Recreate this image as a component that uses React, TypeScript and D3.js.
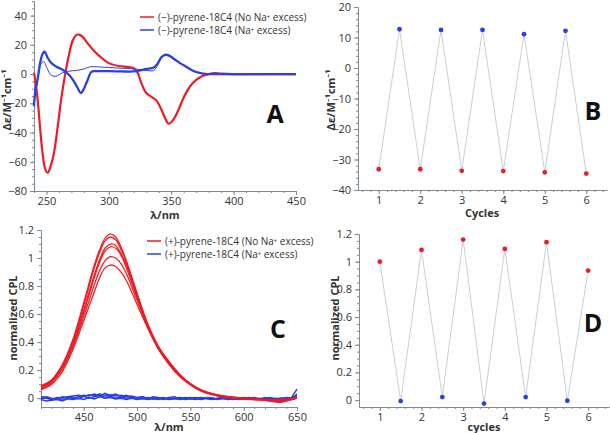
import React, { useEffect, useRef } from 'react';
import * as d3 from 'd3';

const RED = '#ec1c24';
const BLUE = '#2b3fe3';
const AXIS = '#7d8a97';
const TEXT = '#333';
const FONT = '"Open Sans", "Noto Sans", sans-serif';

// Panel A: CD spectra (wavelength nm, delta epsilon)
const cdRed: [number, number][] = [
  [240, 1], [241, -4], [243, -18], [245, -38], [247, -55], [249, -65], [251, -67.5], [253, -64],
  [256, -54], [259, -36], [262, -16], [265, 0], [268, 13], [271, 23], [274, 26.8], [276, 27],
  [279, 25.5], [283, 21], [288, 16], [293, 12], [300, 7.5], [308, 5.5], [316, 4.8], [320, 4],
  [323, 1], [326, -6], [330, -13], [334, -15.5], [338, -18], [342, -24], [345, -30], [348, -34],
  [351, -32], [355, -26], [360, -16], [365, -8.5], [370, -4], [375, -1.3], [380, 0], [385, 0.6],
  [390, 0.3], [400, 0], [420, 0], [450, 0],
];
const cdBlue: [number, number][] = [
  [240, -22], [241, -12], [243, -3], [245, 8], [247, 14], [248.5, 15.3], [251, 11], [254, 7.5],
  [258, 5], [263, 3], [268, -0.5], [272, -5], [275, -9.5], [277.5, -13], [280, -10], [283, -4],
  [286, 1.5], [290, 2], [300, 2], [310, 1.8], [320, 1.8], [325, 2.5], [330, 3.5], [336, 4.5],
  [339, 7], [342, 11.5], [345, 13.2], [348, 12.8], [352, 10.5], [357, 7.5], [362, 5], [367, 2.5],
  [372, 1], [377, 0.2], [385, 0], [450, 0],
];
const cdBlueThin: [number, number][] = [
  [240, -20], [242, -8], [244, 2], [246, 7.5], [248, 8.5], [250, 5], [253, 0], [256, -1.5],
  [259, -1], [263, 1], [268, 2], [274, 2.5], [280, 3.5], [285, 5], [290, 5], [300, 4.5],
  [310, 4], [320, 3.5], [326, 3], [330, 2.5], [336, 2.5], [339, 6], [342, 11], [345, 12.8],
  [350, 11.5], [355, 8.5], [362, 5], [367, 2.5], [372, 1], [378, 0], [450, 0],
];

// Panel B: CD switching cycles
const cycRedX = [1, 2, 3, 4, 5, 6];
const cycRedCD = [-33.2, -33.2, -33.7, -33.8, -34.2, -34.6];
const cycBlueX = [1.5, 2.5, 3.5, 4.5, 5.5];
const cycBlueCD = [12.7, 12.5, 12.5, 11.1, 12.2];

// Panel C: CPL spectra
const cplWl = [410, 420, 430, 440, 450, 460, 465, 470, 475, 480, 485, 490, 500, 510, 520, 530, 540, 550, 560, 570, 580, 600, 620, 635, 650];
const cplRed = [
  [0.08, 0.13, 0.24, 0.42, 0.68, 0.95, 1.06, 1.14, 1.17, 1.15, 1.08, 0.98, 0.75, 0.53, 0.37, 0.26, 0.17, 0.105, 0.06, 0.035, 0.018, 0.0, -0.01, -0.015, 0.0],
  [0.07, 0.12, 0.23, 0.41, 0.66, 0.93, 1.04, 1.12, 1.15, 1.13, 1.06, 0.97, 0.74, 0.53, 0.37, 0.26, 0.17, 0.1, 0.06, 0.03, 0.015, -0.005, -0.012, -0.02, 0.0],
  [0.09, 0.13, 0.23, 0.4, 0.63, 0.88, 0.99, 1.07, 1.1, 1.09, 1.03, 0.95, 0.73, 0.52, 0.36, 0.25, 0.16, 0.1, 0.055, 0.03, 0.012, 0.0, -0.01, -0.01, 0.005],
  [0.06, 0.11, 0.21, 0.38, 0.61, 0.86, 0.97, 1.05, 1.08, 1.07, 1.02, 0.93, 0.72, 0.52, 0.36, 0.25, 0.16, 0.1, 0.055, 0.03, 0.012, -0.005, -0.015, -0.025, 0.0],
  [0.08, 0.12, 0.21, 0.37, 0.58, 0.81, 0.91, 0.98, 1.01, 1.0, 0.96, 0.89, 0.7, 0.51, 0.36, 0.25, 0.16, 0.1, 0.055, 0.03, 0.012, 0.0, -0.01, -0.02, 0.0],
  [0.06, 0.1, 0.19, 0.35, 0.55, 0.76, 0.86, 0.93, 0.95, 0.94, 0.9, 0.84, 0.67, 0.5, 0.35, 0.24, 0.155, 0.095, 0.05, 0.025, 0.01, -0.005, -0.015, -0.03, 0.01],
];
const noiseWl = d3.range(410, 651, 5);
const cplBlue = [
  [0.01, 0.0, -0.01, 0.005, 0.0, 0.01, 0.015, 0.02, 0.01, 0.025, 0.02, 0.03, 0.02, 0.025, 0.015, 0.02, 0.01, 0.015, 0.005, 0.01, 0.0, 0.005, 0.0, 0.005, -0.005, 0.0, 0.005, 0.0, -0.005, 0.0, 0.005, 0.0, -0.005, 0.0, 0.005, -0.01, 0.0, -0.005, 0.0, 0.005, -0.005, 0.0, -0.01, 0.0, -0.005, 0.0, 0.005, 0.0, 0.01],
  [-0.01, -0.02, -0.015, -0.01, -0.02, -0.005, -0.01, 0.0, -0.01, 0.005, -0.005, 0.01, 0.0, 0.005, -0.005, 0.0, -0.01, 0.0, -0.01, -0.005, -0.01, -0.005, -0.01, 0.0, -0.01, -0.005, 0.0, -0.01, -0.005, -0.01, 0.0, -0.005, -0.01, -0.005, 0.0, -0.01, -0.005, -0.01, -0.005, 0.0, -0.01, -0.005, -0.01, -0.015, -0.005, -0.01, 0.0, -0.005, 0.03],
  [0.005, 0.01, 0.0, -0.005, 0.01, 0.005, 0.0, 0.01, 0.02, 0.015, 0.03, 0.015, 0.035, 0.02, 0.03, 0.01, 0.02, 0.005, 0.0, 0.01, -0.005, 0.01, 0.005, -0.005, 0.005, 0.01, -0.005, 0.005, 0.0, 0.005, -0.005, 0.005, 0.0, -0.005, 0.005, 0.0, 0.005, -0.005, 0.005, 0.0, 0.005, -0.005, 0.0, 0.005, -0.005, 0.0, -0.005, 0.005, 0.065],
  [-0.005, 0.005, -0.01, 0.0, -0.015, 0.0, 0.005, -0.005, 0.015, 0.0, 0.01, 0.02, 0.005, 0.015, 0.0, 0.01, 0.0, 0.005, -0.005, 0.0, 0.005, -0.005, 0.0, -0.01, 0.0, -0.005, -0.01, 0.0, 0.005, -0.005, -0.01, 0.0, 0.005, -0.01, -0.005, 0.0, -0.01, 0.0, -0.005, -0.01, 0.0, -0.005, 0.005, -0.01, 0.0, -0.005, -0.01, 0.0, 0.02],
];

// Panel D: CPL switching cycles
const cplRedCyc = [1.0, 1.085, 1.16, 1.092, 1.141, 0.936];
const cplBlueCyc = [-0.007, 0.022, -0.025, 0.022, -0.005];

const fmt = (d: d3.NumberValue) => String(+d).replace('-', '\u2212');

type Sel = d3.Selection<SVGGElement, unknown, null, undefined>;

function styleAxis(a: Sel) {
  a.selectAll('path, line').attr('stroke', AXIS).attr('stroke-width', 1);
  a.selectAll('text').attr('fill', TEXT).attr('font-size', 11).attr('font-family', FONT);
}

function drawAxes(
  g: Sel,
  x: d3.ScaleLinear<number, number>,
  y: d3.ScaleLinear<number, number>,
  xMajor: number[], xMinor: number[], yMajor: number[], yMinor: number[],
) {
  const [x0] = x.range();
  const [y0] = y.range();
  const bx = g.append('g').attr('transform', `translate(0,${y0})`);
  bx.call(d3.axisBottom(x).tickValues(xMinor).tickSize(2).tickFormat(() => '').tickSizeOuter(0));
  styleAxis(bx);
  const bxm = g.append('g').attr('transform', `translate(0,${y0})`);
  bxm.call(d3.axisBottom(x).tickValues(xMajor).tickSize(4).tickPadding(2).tickFormat(fmt).tickSizeOuter(0));
  styleAxis(bxm);
  const ly = g.append('g').attr('transform', `translate(${x0},0)`);
  ly.call(d3.axisLeft(y).tickValues(yMinor).tickSize(2).tickFormat(() => '').tickSizeOuter(0));
  styleAxis(ly);
  const lym = g.append('g').attr('transform', `translate(${x0},0)`);
  lym.call(d3.axisLeft(y).tickValues(yMajor).tickSize(4).tickFormat(fmt).tickSizeOuter(0));
  styleAxis(lym);
}

function title(g: Sel, txt: string, x: number, y: number, rotate = false) {
  g.append('text')
    .attr('transform', rotate ? `translate(${x},${y}) rotate(-90)` : `translate(${x},${y})`)
    .attr('text-anchor', 'middle')
    .attr('font-family', FONT)
    .attr('font-weight', 'bold')
    .attr('font-size', 11)
    .attr('fill', TEXT)
    .text(txt);
}

function letter(g: Sel, txt: string, x: number, y: number) {
  g.append('text').attr('x', x).attr('y', y).attr('text-anchor', 'middle')
    .attr('font-family', FONT).attr('font-weight', 'bold').attr('font-size', 25)
    .attr('fill', '#111').text(txt);
}

function legend(g: Sel, x: number, y: number, items: [string, string][]) {
  items.forEach(([label, color], i) => {
    const yy = y + i * 13;
    g.append('line').attr('x1', x).attr('x2', x + 14).attr('y1', yy).attr('y2', yy)
      .attr('stroke', color).attr('stroke-width', 1.5);
    g.append('text').attr('x', x + 18).attr('y', yy).attr('dy', '0.35em')
      .attr('font-family', FONT).attr('font-size', 10).attr('fill', TEXT).text(label);
  });
}

function cycles(
  g: Sel, x: d3.ScaleLinear<number, number>, y: d3.ScaleLinear<number, number>,
  redX: number[], redY: number[], blueX: number[], blueY: number[],
) {
  const pts = [
    ...redX.map((v, i) => ({ x: v, y: redY[i], c: RED })),
    ...blueX.map((v, i) => ({ x: v, y: blueY[i], c: BLUE })),
  ].sort((a, b) => a.x - b.x);
  g.append('path').datum(pts)
    .attr('d', d3.line<any>().x(d => x(d.x)).y(d => y(d.y)))
    .attr('fill', 'none').attr('stroke', '#c5d0d9').attr('stroke-width', 1);
  g.selectAll('circle.pt').data(pts).enter().append('circle')
    .attr('cx', d => x(d.x)).attr('cy', d => y(d.y)).attr('r', 2.4).attr('fill', d => d.c);
}

export default function App() {
  const svgRef = useRef<SVGSVGElement>(null);

  useEffect(() => {
    if (!svgRef.current) return;
    d3.select(svgRef.current).selectAll('*').remove();
    const svg = d3.select(svgRef.current);
    const root = svg.append('g') as unknown as Sel;
    const smooth = d3.curveCatmullRom.alpha(0.5);

    // ---- A
    const xA = d3.scaleLinear().domain([240, 450]).range([34, 296]);
    const yA = d3.scaleLinear().domain([-80, 50]).range([191, 1]);
    drawAxes(root, xA, yA, d3.range(250, 451, 50), d3.range(240, 451, 10),
      d3.range(-80, 41, 20), d3.range(-80, 51, 5));
    const lineA = d3.line<[number, number]>().x(d => xA(d[0])).y(d => yA(d[1])).curve(smooth);
    root.append('path').attr('d', lineA(cdRed)).attr('fill', 'none').attr('stroke', RED).attr('stroke-width', 2.2);
    root.append('path').attr('d', lineA(cdBlueThin)).attr('fill', 'none').attr('stroke', BLUE).attr('stroke-width', 1);
    root.append('path').attr('d', lineA(cdBlue)).attr('fill', 'none').attr('stroke', BLUE).attr('stroke-width', 2.3);
    title(root, 'λ/nm', 165, 219);
    title(root, 'Δε/M⁻¹cm⁻¹', 11, 100, true);
    letter(root, 'A', 275, 123);
    legend(root, 140, 17, [
      ['(\u2212)-pyrene-18C4 (No Na⁺ excess)', RED],
      ['(\u2212)-pyrene-18C4 (Na⁺ excess)', BLUE],
    ]);

    // ---- B
    const xB = d3.scaleLinear().domain([0.5, 6.5]).range([358, 607]);
    const yB = d3.scaleLinear().domain([-40, 20]).range([190, 7]);
    drawAxes(root, xB, yB, d3.range(1, 7), d3.range(0.6, 6.5, 0.2),
      d3.range(-40, 21, 10), d3.range(-40, 21, 2));
    cycles(root, xB, yB, cycRedX, cycRedCD, cycBlueX, cycBlueCD);
    title(root, 'Cycles', 482, 217);
    title(root, 'Δε/M⁻¹cm⁻¹', 335, 100, true);
    letter(root, 'B', 593, 120);

    // ---- C
    const xC = d3.scaleLinear().domain([410, 650]).range([41, 297]);
    const yC = d3.scaleLinear().domain([-0.063, 1.2]).range([407, 230]);
    drawAxes(root, xC, yC, d3.range(450, 651, 50), d3.range(410, 651, 10),
      [0, 0.2, 0.4, 0.6, 0.8, 1, 1.2], d3.range(0, 1.201, 0.05));
    const lineN = d3.line<number>().x((_, i) => xC(noiseWl[i])).y(d => yC(d));
    cplBlue.forEach(tr => {
      root.append('path').attr('d', lineN(tr)).attr('fill', 'none').attr('stroke', BLUE).attr('stroke-width', 1.5);
    });
    const lineC = d3.line<number>().x((_, i) => xC(cplWl[i])).y(d => yC(d)).curve(smooth);
    cplRed.forEach(tr => {
      root.append('path').attr('d', lineC(tr)).attr('fill', 'none').attr('stroke', RED).attr('stroke-width', 1.3);
    });
    title(root, 'λ/nm', 169, 431);
    title(root, 'normalized CPL', 17, 318, true);
    letter(root, 'C', 278, 338);
    legend(root, 147, 241, [
      ['(+)-pyrene-18C4 (No Na⁺ excess)', RED],
      ['(+)-pyrene-18C4 (Na⁺ excess)', BLUE],
    ]);

    // ---- D
    const xD = d3.scaleLinear().domain([0.5, 6.5]).range([359, 609]);
    const yD = d3.scaleLinear().domain([-0.05, 1.2]).range([407, 234]);
    drawAxes(root, xD, yD, d3.range(1, 7), d3.range(0.6, 6.5, 0.2),
      [0, 0.2, 0.4, 0.6, 0.8, 1, 1.2], d3.range(0, 1.201, 0.05));
    cycles(root, xD, yD, cycRedX, cplRedCyc, cycBlueX, cplBlueCyc);
    title(root, 'cycles', 484, 431);
    title(root, 'normalized CPL', 339, 318, true);
    letter(root, 'D', 593, 332);
  }, []);

  return (
    <div style={{ position: 'absolute', left: 0, top: 0 }}>
      <svg ref={svgRef} width={610} height={433} style={{ display: 'block', background: '#fff' }} />
    </div>
  );
}
